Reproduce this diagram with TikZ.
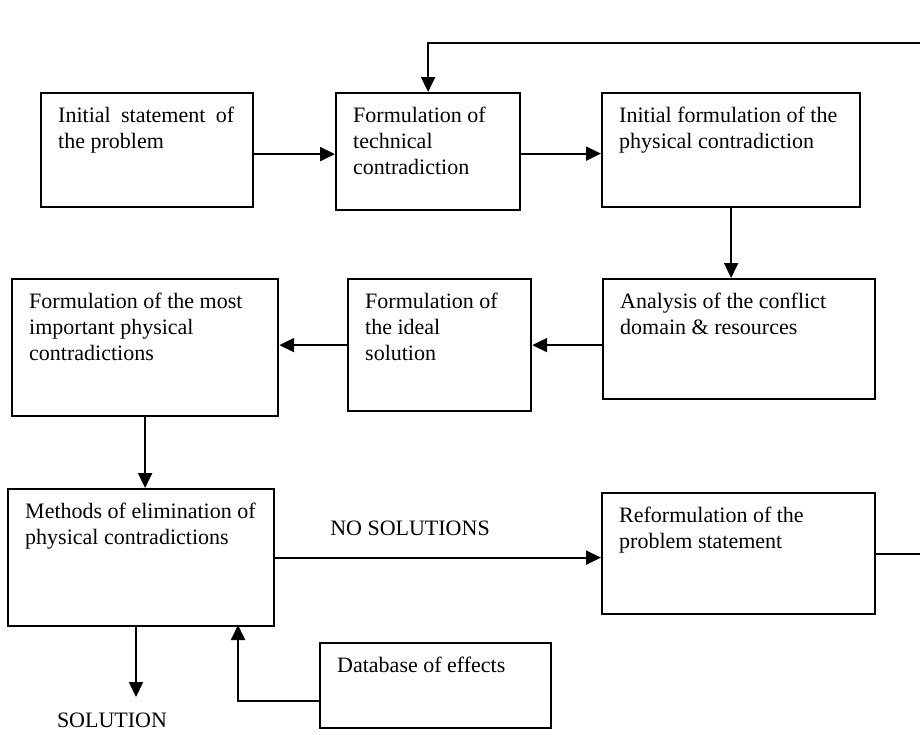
\documentclass[tikz,border=0pt]{standalone}
\usepackage{fontspec}
\setmainfont{Liberation Serif}
\usetikzlibrary{arrows.meta, positioning}

\begin{document}
\begin{tikzpicture}[x=1pt, y=-1pt,
	blk/.style={draw, line width=2.2pt, anchor=north west, inner sep=0pt},
	txt/.style={anchor=north west, inner sep=0pt, align=left, font=\fontsize{22}{26}\selectfont},
	lbl/.style={inner sep=0pt, font=\fontsize{22}{26}\selectfont},
	arr/.style={-{Triangle[length=15pt,width=14pt]}, line width=2pt},
	wire/.style={line width=2pt}]
	\useasboundingbox (0,0) rectangle (920,734);
	% boxes
	\node[blk, minimum width=212pt, minimum height=114pt] at (40,92) (init) {};
	\node[blk, minimum width=184pt, minimum height=117pt] at (335,92) (tech) {};
	\node[blk, minimum width=258pt, minimum height=114pt] at (601,92) (phys) {};
	\node[blk, minimum width=272pt, minimum height=120pt] at (602,278) (anal) {};
	\node[blk, minimum width=183pt, minimum height=132pt] at (347,278) (ideal) {};
	\node[blk, minimum width=266pt, minimum height=137pt] at (11,278) (most) {};
	\node[blk, minimum width=266pt, minimum height=137pt] at (7,488) (meth) {};
	\node[blk, minimum width=273pt, minimum height=121pt] at (601,492) (reform) {};
	\node[blk, minimum width=231pt, minimum height=85pt] at (319,642) (db) {};
	% box texts
	\node[txt, text width=176pt, align=justify] at ([xshift=18pt,yshift=-15pt]init.north west) (initT) {Initial statement of\linebreak the problem};
	\node[txt] at ([xshift=18pt,yshift=-15pt]tech.north west) (techT) {Formulation of\\technical\\contradiction};
	\node[txt] at ([xshift=18pt,yshift=-15pt]phys.north west) (physT) {Initial formulation of the\\physical contradiction};
	\node[txt] at ([xshift=18pt,yshift=-15pt]anal.north west) (analT) {Analysis of the conflict\\domain \& resources};
	\node[txt] at ([xshift=18pt,yshift=-15pt]ideal.north west) (idealT) {Formulation of\\the ideal\\solution};
	\node[txt] at ([xshift=18pt,yshift=-15pt]most.north west) (mostT) {Formulation of the most\\important physical\\contradictions};
	\node[txt] at ([xshift=18pt,yshift=-15pt]meth.north west) (methT) {Methods of elimination of\\physical contradictions};
	\node[txt] at ([xshift=18pt,yshift=-15pt]reform.north west) (reformT) {Reformulation of the\\problem statement};
	\node[txt] at ([xshift=18pt,yshift=-15pt]db.north west) (dbT) {Database of effects};
	% free labels
	\node[lbl] at (410,528) (nosol) {NO SOLUTIONS};
	\node[lbl] at (112,720) (sol) {SOLUTION};
	% loose ends
	\coordinate (fbR) at (920,43);
	\coordinate (rfR) at (920,553);
	\coordinate (solEnd) at (136,697);
	\coordinate (dbIn) at (238,625);
	% connectors
	\draw[arr] ([yshift=-4pt]init.east) -- ([yshift=-4pt]init.east -| tech.west);
	\draw[arr] ([yshift=-2pt]tech.east) -- ([yshift=-2pt]tech.east -| phys.west);
	\draw[arr] (fbR) -| (tech.north);
	\draw[arr] (phys.south) -- (phys.south |- anal.north);
	\draw[arr] (anal.west |- ideal.east) -- (ideal.east);
	\draw[arr] (ideal.west) -- (ideal.west -| most.east);
	\draw[arr] (most.south) -- (most.south |- meth.north);
	\draw[arr] (meth.east) -- (meth.east -| reform.west);
	\draw[wire] (reform.east) -- (reform.east -| rfR);
	\draw[arr] (meth.south -| solEnd) -- (solEnd);
	\draw[arr] ([yshift=-15pt]db.west) -| (dbIn);
\end{tikzpicture}
\end{document}
